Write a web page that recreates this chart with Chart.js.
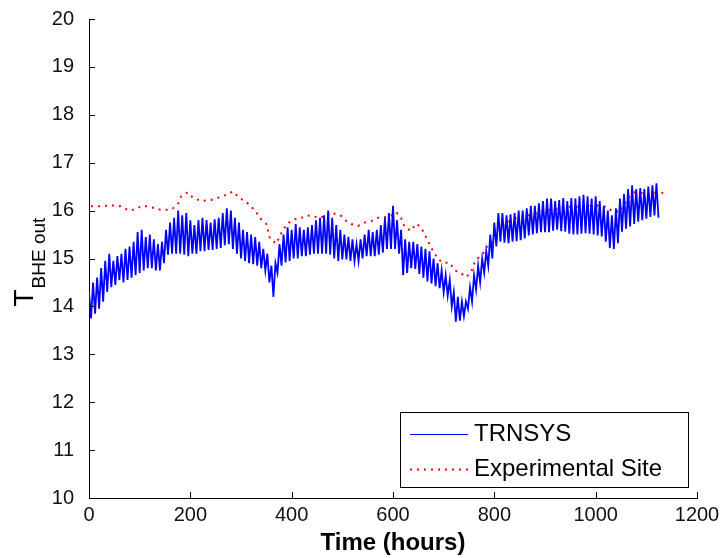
<!DOCTYPE html>
<html>
<head>
<meta charset="utf-8">
<script src="https://cdn.jsdelivr.net/npm/chart.js@4/dist/chart.umd.min.js"></script>
<style>
  html, body { margin: 0; padding: 0; background: #fff; }
  #wrap { width: 722px; height: 558px; }
</style>
</head>
<body>
<div id="wrap"><canvas id="bhe"></canvas></div>
<script>
// TRNSYS output, tops of the swings every 8 h from 0 h, bottoms 4 h after each top
const trnsysHigh = [
  14.3, 14.5, 14.6, 14.8, 14.95, 15.1, 14.95, 15.05, 15.1, 15.2,
  15.25, 15.35, 15.55, 15.6, 15.45, 15.5, 15.4, 15.3, 15.35, 15.6,
  15.75, 15.85, 16.0, 15.9, 15.95, 15.8, 15.7, 15.8, 15.85, 15.8,
  15.75, 15.82, 15.85, 15.95, 16.05, 16.0, 15.85, 15.75, 15.6, 15.55,
  15.5, 15.45, 15.35, 15.2, 15.1, 14.85, 14.9, 15.3, 15.5, 15.65,
  15.6, 15.72, 15.65, 15.6, 15.65, 15.7, 15.8, 15.85, 15.9, 16.0,
  15.85, 15.7, 15.6, 15.5, 15.45, 15.4, 15.3, 15.4, 15.5, 15.6,
  15.55, 15.6, 15.7, 15.85, 15.95, 16.1, 15.8, 15.6, 15.4, 15.35,
  15.35, 15.3, 15.25, 15.2, 15.15, 15.0, 14.9, 14.75, 14.65, 14.55,
  14.3, 14.2, 14.1, 14.1, 14.4, 14.65, 14.85, 15.0, 15.15, 15.5,
  15.75, 15.95, 15.95, 15.9, 15.92, 15.95, 16.0, 16.0, 16.05, 16.1,
  16.1, 16.15, 16.2, 16.25, 16.25, 16.2, 16.22, 16.26, 16.2, 16.26,
  16.25, 16.3, 16.33, 16.3, 16.25, 16.3, 16.2, 16.1, 16.0, 15.9,
  16.05, 16.25, 16.35, 16.45, 16.53, 16.45, 16.47, 16.45, 16.5, 16.53,
  16.57
];
const trnsysLow = [
  13.75, 13.85, 13.95, 14.1, 14.3, 14.4, 14.45, 14.55, 14.5, 14.55,
  14.6, 14.65, 14.7, 14.75, 14.8, 14.8, 14.75, 14.75, 14.9, 15.08,
  15.1, 15.1, 15.1, 15.08, 15.05, 15.1, 15.1, 15.15, 15.15, 15.18,
  15.18, 15.2, 15.22, 15.28, 15.3, 15.2, 15.1, 15.0, 14.95, 14.9,
  14.88, 14.85, 14.8, 14.75, 14.5, 14.2, 14.7, 14.85, 14.92, 14.95,
  15.0, 15.0, 15.05, 15.05, 15.08, 15.1, 15.1, 15.1, 15.1, 15.08,
  15.0, 14.95, 14.98, 14.98, 14.95, 14.95, 14.95, 15.0, 15.05, 15.05,
  15.05, 15.08, 15.12, 15.2, 15.2, 15.2, 15.1, 14.65, 14.7, 14.8,
  14.78, 14.68, 14.6, 14.52, 14.48, 14.42, 14.38, 14.3, 14.22, 14.0,
  13.68, 13.7, 13.8, 13.95, 14.1, 14.35, 14.5, 14.7, 14.85, 15.0,
  15.25, 15.35, 15.33, 15.32, 15.35, 15.36, 15.38, 15.42, 15.48, 15.5,
  15.53, 15.55, 15.55, 15.55, 15.58, 15.6, 15.57, 15.56, 15.52, 15.5,
  15.5, 15.52, 15.53, 15.52, 15.5, 15.48, 15.46, 15.35, 15.22, 15.2,
  15.32, 15.56, 15.62, 15.67, 15.72, 15.77, 15.8, 15.83, 15.87, 15.9,
  15.85
];
const trnsysStep = 8;

// experimental site readings
const expHours = [
  4, 24, 44, 64, 77, 90, 103, 116, 130, 143, 156, 166, 176, 182, 195, 205,
  222, 241, 258, 271, 284, 297, 310, 318, 327, 337, 350, 354, 357, 370, 377,
  390, 406, 416, 429, 439, 455, 468, 478, 488, 498, 508, 518, 531, 544, 557,
  570, 583, 596, 606, 616, 620, 627, 637, 644, 653, 660, 667, 673, 680, 690,
  699, 712, 722, 732, 745, 755, 761, 768, 778, 784, 791, 804, 814, 824, 844,
  864, 877, 896, 910, 923, 933, 952, 972, 985, 1005, 1021, 1031, 1041, 1047,
  1054, 1064, 1077, 1090, 1103, 1116, 1126, 1136
];
const expTemp = [
  16.09, 16.09, 16.11, 16.09, 16.01, 16.02, 16.09, 16.09, 16.05, 16.01, 16.02, 16.05, 16.15, 16.3, 16.38, 16.27,
  16.2, 16.22, 16.28, 16.33, 16.4, 16.26, 16.19, 16.09, 16.02, 15.85, 15.72, 15.56, 15.41, 15.31, 15.48,
  15.72, 15.82, 15.83, 15.9, 15.89, 15.85, 15.89, 15.97, 15.92, 15.89, 15.78, 15.72, 15.68, 15.75, 15.78,
  15.85, 15.86, 15.89, 15.97, 15.85, 15.72, 15.62, 15.58, 15.72, 15.68, 15.56, 15.41, 15.28, 15.14, 14.98,
  14.91, 14.91, 14.75, 14.71, 14.61, 14.74, 14.91, 15.01, 15.11, 15.23, 15.31, 15.41, 15.65, 15.75, 15.85,
  15.9, 15.92, 15.99, 16.02, 16.03, 16.08, 16.08, 16.08, 16.1, 16.1, 16.08, 16.0, 15.99, 15.96,
  16.1, 16.27, 16.38, 16.37, 16.35, 16.37, 16.36, 16.38
];

const xTicks = [0, 200, 400, 600, 800, 1000, 1200];
const yTicks = [10, 11, 12, 13, 14, 15, 16, 17, 18, 19, 20];

const trnsysPts = [];
for (let k = 0; k < trnsysHigh.length; k++) {
  trnsysPts.push({ x: k * trnsysStep, y: trnsysHigh[k] });
  trnsysPts.push({ x: k * trnsysStep + trnsysStep / 2, y: trnsysLow[k] });
}
const expPts = expHours.map((h, i) => ({ x: h, y: expTemp[i] }));

const FONT = "Arial, 'Liberation Sans', sans-serif";

// inward ticks, rotated y label with subscript, legend box
const matlabish = {
  id: "matlabish",
  afterDraw(chart) {
    const ctx = chart.ctx;
    const a = chart.chartArea;
    const xs = chart.scales.x, ys = chart.scales.y;
    ctx.save();
    ctx.strokeStyle = "#000";
    ctx.lineWidth = 1;
    ctx.beginPath();
    xTicks.forEach((v) => {
      const px = Math.round(xs.getPixelForValue(v)) + 0.5;
      ctx.moveTo(px, a.bottom);
      ctx.lineTo(px, a.bottom - 6);
    });
    yTicks.forEach((v) => {
      const py = Math.round(ys.getPixelForValue(v)) + 0.5;
      ctx.moveTo(a.left, py);
      ctx.lineTo(a.left + 6, py);
    });
    ctx.stroke();

    // y label: T with BHE out subscript, reading upward
    const cy = (a.top + a.bottom) / 2;
    ctx.translate(33, cy + 48);
    ctx.rotate(-Math.PI / 2);
    ctx.fillStyle = "#000";
    ctx.textBaseline = "alphabetic";
    ctx.textAlign = "left";
    ctx.font = "28px " + FONT;
    ctx.fillText("T", 0, 0);
    const tw = ctx.measureText("T").width;
    ctx.font = "19px " + FONT;
    ctx.fillText("BHE out", tw + 1, 12);
    ctx.restore();

    // legend
    const bx = 400.5, by = 412.5, bw = 288, bh = 75;
    ctx.save();
    ctx.fillStyle = "#fff";
    ctx.fillRect(bx, by, bw, bh);
    ctx.strokeStyle = "#000";
    ctx.lineWidth = 1;
    ctx.strokeRect(bx, by, bw, bh);
    ctx.font = "24px " + FONT;
    ctx.fillStyle = "#000";
    ctx.textBaseline = "middle";
    chart.data.datasets.forEach((ds, i) => {
      const ly = by + 21 + i * 35;
      ctx.beginPath();
      ctx.strokeStyle = ds.borderColor;
      ctx.lineWidth = i === 0 ? 1 : 2;
      ctx.setLineDash(i === 0 ? [] : [2, 5]);
      ctx.moveTo(410, Math.round(ly) + 0.5);
      ctx.lineTo(468, Math.round(ly) + 0.5);
      ctx.stroke();
      ctx.setLineDash([]);
      ctx.fillText(ds.label, 474, ly + 1);
    });
    ctx.restore();
  },
};

new Chart(document.getElementById("bhe"), {
  type: "line",
  data: {
    datasets: [
      {
        label: "TRNSYS",
        data: trnsysPts,
        borderColor: "#0000ff",
        borderWidth: 1.8,
        pointRadius: 0,
        tension: 0,
      },
      {
        label: "Experimental Site",
        data: expPts,
        borderColor: "#ff0000",
        borderWidth: 2,
        borderDash: [2, 5],
        pointRadius: 0,
        tension: 0,
      },
    ],
  },
  options: {
    responsive: true,
    maintainAspectRatio: false,
    animation: false,
    layout: { padding: { top: 16, right: 25, left: 0, bottom: 0 } },
    plugins: { legend: { display: false }, tooltip: { enabled: false } },
    scales: {
      x: {
        type: "linear",
        min: 0,
        max: 1200,
        afterFit: (s) => { s.height = 60; },
        afterBuildTicks: (s) => { s.ticks = xTicks.map((v) => ({ value: v })); },
        grid: { display: false },
        border: { display: true, color: "#000", width: 1 },
        ticks: {
          color: "#111",
          font: { family: FONT, size: 20 },
          padding: -3,
          maxRotation: 0,
          callback: (v) => String(v),
        },
        title: {
          display: true,
          text: "Time (hours)",
          color: "#000",
          font: { family: FONT, size: 24, weight: "bold" },
          padding: { top: 0, bottom: 0 },
        },
      },
      y: {
        min: 10,
        max: 20,
        afterFit: (s) => { s.width = 89; },
        afterBuildTicks: (s) => { s.ticks = yTicks.map((v) => ({ value: v })); },
        grid: { display: false },
        border: { display: true, color: "#000", width: 1 },
        ticks: { color: "#111", font: { family: FONT, size: 20 }, padding: 7, callback: (v) => String(v) },
      },
    },
  },
  plugins: [matlabish],
});
</script>
</body>
</html>
